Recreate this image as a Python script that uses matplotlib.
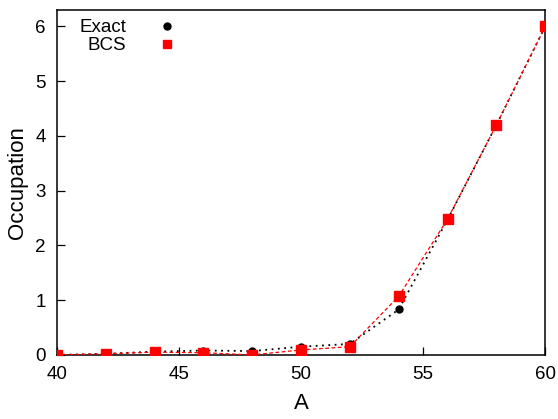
import matplotlib
matplotlib.use("Agg")
import matplotlib.pyplot as plt
from matplotlib.lines import Line2D

plt.rcParams['font.family'] = ['Liberation Sans', 'DejaVu Sans']

A = [40, 42, 44, 46, 48, 50, 52, 54, 56, 58, 60]
exact = [0.0, 0.02, 0.06, 0.08, 0.07, 0.15, 0.20, 0.83, 2.47, 4.20, 6.00]
bcs = [0.0, 0.02, 0.05, 0.04, 0.0, 0.09, 0.15, 1.07, 2.48, 4.20, 6.00]

xticks = [40, 45, 50, 55, 60]
yticks = [0, 1, 2, 3, 4, 5, 6]

fig = plt.figure(figsize=(5.58, 4.19), dpi=100)
ax = fig.add_axes([0.102, 0.153, 0.875, 0.823])

ax.plot(A, exact, color='black', linestyle=(0, (1, 2.5)), linewidth=1.3,
        marker='o', markersize=5, zorder=3)
ax.plot(A, bcs, color='red', linestyle=(0, (3, 2)), linewidth=0.9,
        marker='s', markersize=6.5, zorder=4)

ax.set_xlim(40, 60)
ax.set_ylim(0, 6.3)
ax.set_xticks(xticks)
ax.set_yticks(yticks)
ax.tick_params(direction='in', length=6, labelsize=13.5, pad=8, width=0.9)
ax.set_xlabel('A', fontsize=16, labelpad=7)
ax.set_ylabel('Occupation', fontsize=16, labelpad=5)
for s in ax.spines.values():
    s.set_linewidth(1.1)

handles = [
    Line2D([], [], color='black', marker='o', linestyle='none', markersize=5),
    Line2D([], [], color='red', marker='s', linestyle='none', markersize=5.5),
]
ax.legend(handles, ['Exact', 'BCS'], loc='upper left', frameon=False,
          markerfirst=False, fontsize=13.5, handletextpad=1.2,
          borderaxespad=0.0, bbox_to_anchor=(0.03, 0.995),
          labelspacing=0.05)

fig.savefig('out.png', dpi=100)
